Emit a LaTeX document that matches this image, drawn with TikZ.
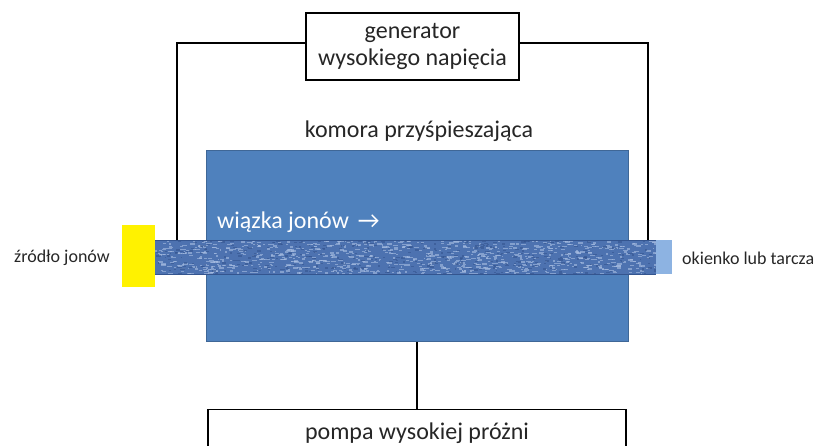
\documentclass[tikz,border=0pt]{standalone}
\usepackage{fontspec}
\setmainfont{Carlito}
\definecolor{chamber}{HTML}{4F81BD}
\definecolor{beamc}{HTML}{4D72B0}
\definecolor{beamdark}{HTML}{34558F}
\definecolor{beamlight}{HTML}{A9BFE3}
\definecolor{windowc}{HTML}{8DB3E2}
\definecolor{txt}{HTML}{262626}
\tikzset{
  wire/.style={draw=black, line width=1.3pt},
  bigtext/.style={font=\fontsize{24}{27}\selectfont},
  boxnode/.style={draw=black, line width=1.3pt, fill=white, inner sep=0pt, align=center, bigtext, text=txt},
  sidelabel/.style={font=\fontsize{18}{21}\selectfont, text=txt, inner sep=0pt},
}
\begin{document}
\begin{tikzpicture}[x=1pt,y=-1pt]
\useasboundingbox (0,0) rectangle (818,445);
% chamber
\node[fill=chamber, draw=chamber!80!black, line width=0.6pt, minimum width=422pt, minimum height=191pt, inner sep=0pt] (chamber) at (417,246) {};
\node[bigtext, text=txt] (chlabel) at (419,131) {komora przyśpieszająca};
% generator
\node[boxnode, minimum width=213pt, minimum height=67pt] (gen) at (412.5,46.5) {generator\\wysokiego napięcia};
% pump
\node[boxnode, minimum width=418pt, minimum height=60pt, anchor=north] (pump) at (417,409) {};
\node[bigtext, text=txt] (pumplabel) at (417,433) {pompa wysokiej próżni};
% beam
\coordinate (bl) at (155,240);
\coordinate (br) at (656,274);
\fill[beamc] (bl) rectangle (br);
\begin{scope}
\clip (bl) rectangle (br);
\pgfmathsetseed{7}
\foreach \i in {1,...,900}{
  \pgfmathsetmacro{\xx}{155+rand*0.5*501+250.5}
  \pgfmathsetmacro{\yy}{257+rand*17}
  \pgfmathsetmacro{\ww}{1.5+rnd*4}
  \fill[beamlight, opacity=0.6] (\xx,\yy) rectangle ++(\ww,1.3);
}
\foreach \i in {1,...,400}{
  \pgfmathsetmacro{\xx}{155+rand*0.5*501+250.5}
  \pgfmathsetmacro{\yy}{257+rand*17}
  \pgfmathsetmacro{\ww}{1.5+rnd*3}
  \fill[beamdark, opacity=0.6] (\xx,\yy) rectangle ++(\ww,1.3);
}
\end{scope}
\draw[beamdark, line width=0.8pt] (bl) -- (bl -| br);
\draw[beamdark, line width=0.8pt] (bl |- br) -- (br);
% window
\node[fill=windowc, minimum width=16pt, minimum height=34pt, inner sep=0pt, anchor=north west] (window) at (656,240) {};
% source
\node[fill=yellow, minimum width=33pt, minimum height=62pt, inner sep=0pt, anchor=north west] (source) at (122,225) {};
% wires
\coordinate (wl) at (177,240);
\coordinate (wr) at (648,240);
\draw[wire] (gen.west |- 0,43) -| (wl);
\draw[wire] (gen.east |- 0,43) -| (wr);
\draw[wire] (chamber.south) -- (pump.north);
% labels
\node[sidelabel, anchor=east] (srclabel) at (110,258) {źródło jonów};
\node[sidelabel, anchor=west] (winlabel) at (682,258) {okienko lub tarcza};
\node[bigtext, text=white, anchor=west, inner sep=0pt] (beamlabel) at (217,222) {wiązka jonów\hspace{9pt}→};
\end{tikzpicture}
\end{document}
